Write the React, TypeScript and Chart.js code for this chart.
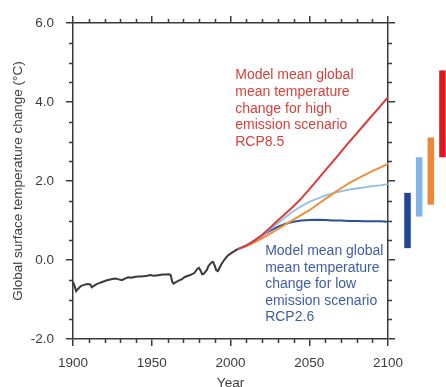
import React, { useEffect, useRef } from 'react';
import { Chart, registerables } from 'chart.js';

Chart.register(...registerables);

// ---------- data ----------
const histYears = [1900, 1901, 1902, 1903, 1905, 1907, 1909, 1911, 1912, 1913, 1915, 1917, 1919, 1921, 1923, 1925, 1927, 1929, 1931, 1933, 1935, 1937, 1939, 1941, 1943, 1945, 1947, 1949, 1951, 1953, 1955, 1957, 1959, 1961, 1962, 1963, 1964, 1965, 1967, 1969, 1971, 1973, 1975, 1977, 1979, 1980, 1981, 1982, 1983, 1985, 1986, 1988, 1989, 1990, 1991, 1992, 1994, 1996, 1998, 2000, 2002, 2004, 2005];
const histValues = [-0.55, -0.66, -0.79, -0.74, -0.66, -0.63, -0.61, -0.62, -0.69, -0.66, -0.61, -0.58, -0.55, -0.52, -0.5, -0.48, -0.47, -0.49, -0.51, -0.47, -0.44, -0.45, -0.43, -0.42, -0.42, -0.41, -0.4, -0.38, -0.4, -0.39, -0.38, -0.37, -0.37, -0.36, -0.38, -0.55, -0.6, -0.57, -0.52, -0.49, -0.43, -0.4, -0.37, -0.33, -0.22, -0.2, -0.27, -0.36, -0.35, -0.25, -0.15, -0.06, -0.05, -0.15, -0.26, -0.28, -0.12, 0.0, 0.1, 0.16, 0.21, 0.26, 0.28];

const projYears = [2005, 2010, 2015, 2020, 2025, 2030, 2035, 2040, 2045, 2050, 2055, 2060, 2065, 2070, 2075, 2080, 2085, 2090, 2095, 2100];
const rcp26 = [0.28, 0.37, 0.49, 0.62, 0.74, 0.84, 0.92, 0.97, 1.0, 1.01, 1.02, 1.01, 1.0, 1.0, 0.99, 0.99, 0.98, 0.98, 0.98, 0.97];
const rcp45 = [0.28, 0.37, 0.48, 0.6, 0.77, 0.93, 1.09, 1.24, 1.36, 1.47, 1.55, 1.63, 1.69, 1.74, 1.78, 1.81, 1.84, 1.87, 1.89, 1.92];
const rcp60 = [0.28, 0.35, 0.44, 0.55, 0.66, 0.78, 0.9, 1.02, 1.14, 1.26, 1.4, 1.54, 1.68, 1.81, 1.94, 2.05, 2.15, 2.25, 2.34, 2.43];
const rcp85 = [0.28, 0.36, 0.48, 0.63, 0.81, 1.0, 1.18, 1.36, 1.56, 1.79, 2.02, 2.26, 2.49, 2.73, 2.97, 3.2, 3.43, 3.66, 3.89, 4.12];

const rangeNames = ['RCP2.6', 'RCP4.5', 'RCP6.0', 'RCP8.5'];
const rangeLow = [0.3, 1.1, 1.4, 2.6];
const rangeHigh = [1.7, 2.6, 3.1, 4.8];

const xTicks = [1900, 1950, 2000, 2050, 2100];
const yTicks = [-2, 0, 2, 4, 6];

const highLabel = ['Model mean global', 'mean temperature', 'change for high', 'emission scenario', 'RCP8.5'];
const lowLabel = ['Model mean global', 'mean temperature', 'change for low', 'emission scenario', 'RCP2.6'];

// ---------- styles ----------
const AXIS = '#3a3a3a';
const TEXT = '#3c3c3c';
const FONT = "'Liberation Sans', Arial, Helvetica, sans-serif";
const lineColors = { hist: '#3a3a3a', rcp26: '#2d4d9e', rcp45: '#8dbfe9', rcp60: '#ef8f3c', rcp85: '#dc3a3a' };
const barColors = ['#1f4597', '#80b4e8', '#ef8535', '#e0161a'];

Chart.defaults.font.family = FONT;
Chart.defaults.color = TEXT;

const pts = (xs: number[], ys: number[]) => xs.map((x, i) => ({ x, y: ys[i] }));

const extrasPlugin = {
  id: 'extras',
  afterDraw(chart: any) {
    const { ctx, chartArea, scales } = chart;
    const xs = scales.x;
    const ys = scales.y;
    ctx.save();
    // minor ticks
    ctx.strokeStyle = AXIS;
    ctx.lineWidth = 1.5;
    ctx.beginPath();
    for (let yr = 1900; yr <= 2100; yr += 10) {
      if (yr % 50 === 0) continue;
      const px = Math.round(xs.getPixelForValue(yr)) + 0.5;
      ctx.moveTo(px, chartArea.bottom);
      ctx.lineTo(px, chartArea.bottom + 4);
      ctx.moveTo(px, chartArea.top);
      ctx.lineTo(px, chartArea.top - 4);
    }
    for (let k = -4; k <= 12; k++) {
      const v = k / 2;
      if (k % 4 === 0) continue;
      const py = Math.round(ys.getPixelForValue(v)) + 0.5;
      ctx.moveTo(chartArea.left, py);
      ctx.lineTo(chartArea.left - 4, py);
      ctx.moveTo(chartArea.right, py);
      ctx.lineTo(chartArea.right + 4, py);
    }
    ctx.stroke();

    // likely-range bars (2081-2100)
    rangeNames.forEach((_, i) => {
      const top = ys.getPixelForValue(rangeHigh[i]);
      const bot = ys.getPixelForValue(rangeLow[i]);
      const cx = chartArea.right + 19.5 + i * 11.65;
      ctx.fillStyle = barColors[i];
      ctx.fillRect(cx - 3.25, top, 6.5, bot - top);
    });

    // annotations
    ctx.font = `14px ${FONT}`;
    ctx.textAlign = 'left';
    ctx.textBaseline = 'middle';
    ctx.fillStyle = '#d8403c';
    const hx = xs.getPixelForValue(2003);
    const hy = ys.getPixelForValue(4.67);
    highLabel.forEach((t, i) => ctx.fillText(t, hx, hy + i * 16.6));
    ctx.fillStyle = '#3f5ca8';
    const lx = xs.getPixelForValue(2022);
    const ly = ys.getPixelForValue(0.22);
    lowLabel.forEach((t, i) => ctx.fillText(t, lx, ly + i * 16.5));
    ctx.restore();
  },
};

export default function App() {
  const ref = useRef<HTMLCanvasElement | null>(null);

  useEffect(() => {
    if (!ref.current) return;
    const gridOpts = { drawOnChartArea: false, drawTicks: true, tickLength: 7, color: AXIS, lineWidth: 1.5 };
    const borderOpts = { display: true, color: AXIS, width: 1.5 };
    const lineDs = (label: string, data: any[], color: string, width = 2) => ({
      label,
      data,
      borderColor: color,
      backgroundColor: color,
      borderWidth: width,
      pointRadius: 0,
      tension: 0,
      fill: false,
    });
    const chart = new Chart(ref.current, {
      type: 'line',
      data: {
        datasets: [
          lineDs('RCP8.5', pts(projYears, rcp85), lineColors.rcp85),
          lineDs('RCP6.0', pts(projYears, rcp60), lineColors.rcp60),
          lineDs('RCP4.5', pts(projYears, rcp45), lineColors.rcp45, 1.8),
          lineDs('RCP2.6', pts(projYears, rcp26), lineColors.rcp26),
          lineDs('Historical', pts(histYears, histValues), lineColors.hist),
        ],
      },
      options: {
        animation: false,
        responsive: false,
        devicePixelRatio: 1,
        layout: { padding: 0 },
        plugins: { legend: { display: false }, tooltip: { enabled: false } },
        scales: {
          x: {
            type: 'linear',
            position: 'bottom',
            min: 1900,
            max: 2100,
            afterBuildTicks: (s: any) => { s.ticks = xTicks.map((value) => ({ value })); },
            afterFit: (s: any) => { s.height = 48; },
            ticks: { callback: (v: any) => String(v), padding: 9, maxRotation: 0, autoSkip: false, font: { size: 13.5 }, color: TEXT },
            grid: gridOpts,
            border: borderOpts,
            title: { display: true, text: 'Year', font: { size: 13.5 }, color: TEXT, padding: { top: 0, bottom: -4 } },
          },
          x2: {
            type: 'linear',
            position: 'top',
            min: 1900,
            max: 2100,
            afterBuildTicks: (s: any) => { s.ticks = xTicks.map((value) => ({ value })); },
            afterFit: (s: any) => { s.height = 23; },
            ticks: { display: false },
            grid: gridOpts,
            border: borderOpts,
          },
          y: {
            type: 'linear',
            position: 'left',
            min: -2,
            max: 6,
            afterBuildTicks: (s: any) => { s.ticks = yTicks.map((value) => ({ value })); },
            afterFit: (s: any) => { s.width = 73; },
            ticks: { callback: (v: any) => Number(v).toFixed(1), padding: 12, font: { size: 13.5 }, color: TEXT },
            grid: gridOpts,
            border: borderOpts,
            title: { display: true, text: 'Global surface temperature change (°C)', font: { size: 13.5 }, color: TEXT, padding: { top: 10, bottom: 0 } },
          },
          y2: {
            type: 'linear',
            position: 'right',
            min: -2,
            max: 6,
            afterBuildTicks: (s: any) => { s.ticks = yTicks.map((value) => ({ value })); },
            afterFit: (s: any) => { s.width = 58; },
            ticks: { display: false },
            grid: gridOpts,
            border: borderOpts,
          },
        },
      },
      plugins: [extrasPlugin],
    } as any);
    return () => chart.destroy();
  }, []);

  return (
    <div style={{ position: 'fixed', left: 0, top: 0, width: 446, height: 387, background: '#fff' }}>
      <canvas ref={ref} width={446} height={387} style={{ display: 'block', width: 446, height: 387 }} />
    </div>
  );
}
